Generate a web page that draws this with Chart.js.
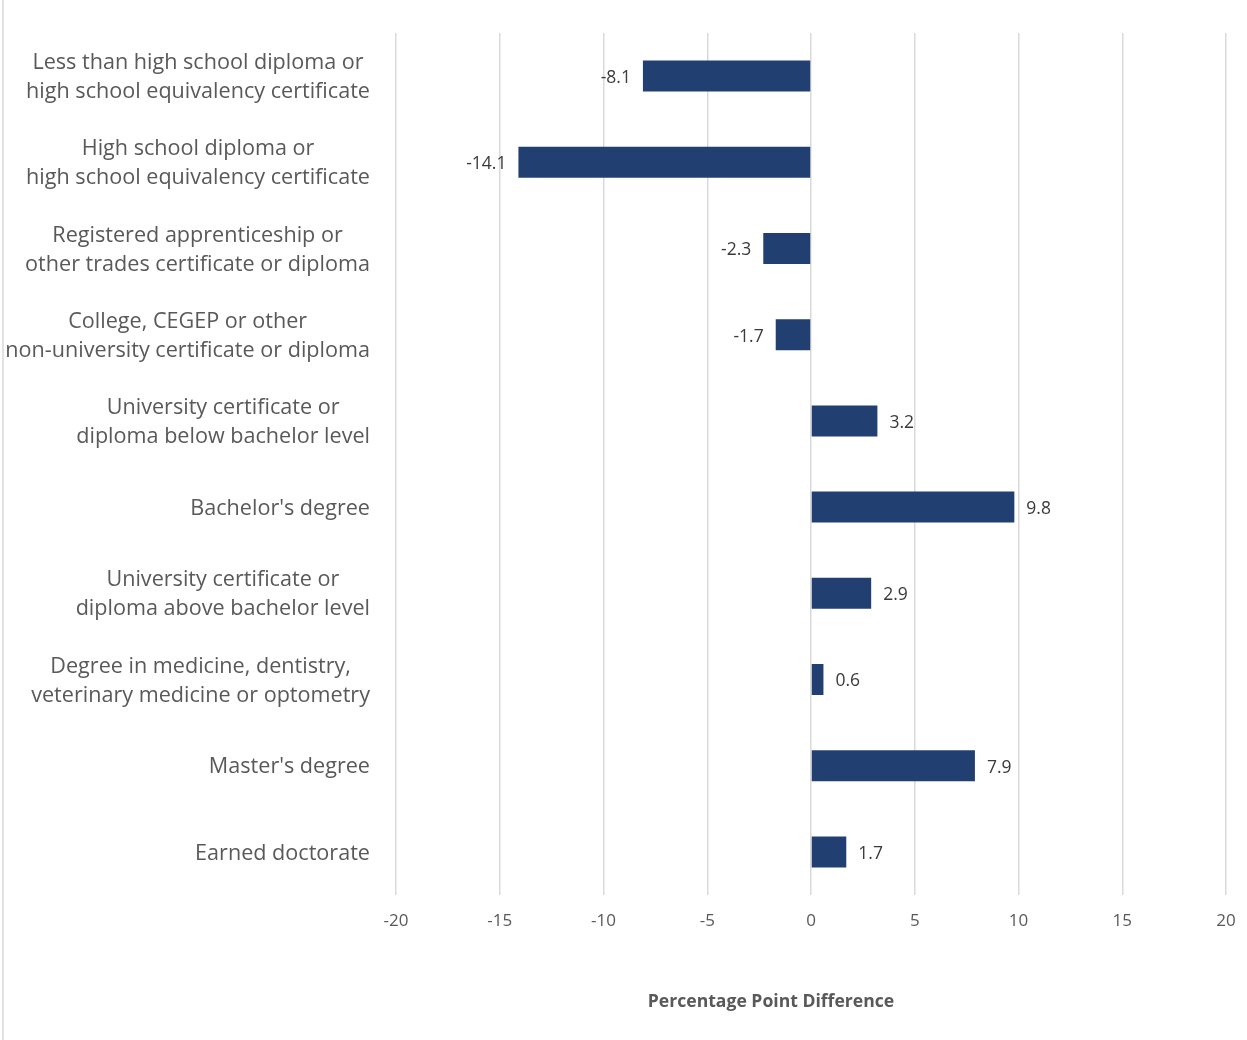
<!DOCTYPE html>
<html>
<head>
<meta charset="utf-8">
<script src="https://cdn.jsdelivr.net/npm/chart.js@4"></script>
<style>
  html, body { margin: 0; padding: 0; background: #fff; }
  #wrap { position: relative; width: 1247px; height: 1040px; }
  #wrap:before { content: ''; position: absolute; left: 2px; top: 0; bottom: 0; border-left: 2px solid #e2e2e2; }
</style>
</head>
<body>
<div id="wrap"><canvas id="chart" width="1247" height="1040"></canvas></div>
<script>
// niveaux de scolarité (une ligne par entrée de sous-tableau)
const categories = [
  ['Less than high school diploma or', 'high school equivalency certificate'],
  ['High school diploma or', 'high school equivalency certificate'],
  ['Registered apprenticeship or', 'other trades certificate or diploma'],
  ['College, CEGEP or other', 'non-university certificate or diploma'],
  ['University certificate or', 'diploma below bachelor level'],
  ["Bachelor's degree"],
  ['University certificate or', 'diploma above bachelor level'],
  ['Degree in medicine, dentistry,', 'veterinary medicine or optometry'],
  ["Master's degree"],
  ['Earned doctorate']
];
const differences = [-8.1, -14.1, -2.3, -1.7, 3.2, 9.8, 2.9, 0.6, 7.9, 1.7];
const xTicks = [-20, -15, -10, -5, 0, 5, 10, 15, 20];
const axisTitle = 'Percentage Point Difference';

const FONT = '"Open Sans", "Noto Sans", sans-serif';
const BAR = '#223f72';

// étiquettes des catégories : bloc aligné à droite, lignes centrées entre elles
const categoryLabels = {
  id: 'categoryLabels',
  afterDraw(chart) {
    const { ctx, scales: { y } } = chart;
    ctx.save();
    ctx.font = '21.6px ' + FONT;
    ctx.fillStyle = '#595959';
    ctx.textAlign = 'center';
    ctx.textBaseline = 'middle';
    const lineH = 29;
    const right = chart.chartArea.left - 26;
    categories.forEach((lines, i) => {
      const yc = y.getPixelForTick(i) + 1.5;
      const maxW = Math.max(...lines.map(l => ctx.measureText(l).width));
      const cx = right - maxW / 2;
      lines.forEach((l, k) => {
        ctx.fillText(l, cx, yc + (k - (lines.length - 1) / 2) * lineH);
      });
    });
    ctx.restore();
  }
};

// valeurs au bout des barres + titre de l'axe
const valueLabels = {
  id: 'valueLabels',
  afterDatasetsDraw(chart) {
    const { ctx } = chart;
    const meta = chart.getDatasetMeta(0);
    ctx.save();
    ctx.font = '17.5px ' + FONT;
    ctx.fillStyle = '#3a3a3a';
    ctx.textBaseline = 'middle';
    meta.data.forEach((bar, i) => {
      const v = differences[i];
      if (v < 0) {
        ctx.textAlign = 'right';
        ctx.fillText(v.toFixed(1), bar.x - 12, bar.y + 2);
      } else {
        ctx.textAlign = 'left';
        ctx.fillText(v.toFixed(1), bar.x + 12, bar.y + 2);
      }
    });
    ctx.font = 'bold 17.6px ' + FONT;
    ctx.fillStyle = '#595959';
    ctx.textAlign = 'center';
    ctx.fillText(axisTitle, 771, 1002);
    ctx.restore();
  }
};

new Chart(document.getElementById('chart'), {
  type: 'bar',
  data: {
    labels: categories,
    datasets: [{
      data: differences,
      backgroundColor: BAR,
      borderWidth: 0,
      categoryPercentage: 0.36,
      barPercentage: 1
    }]
  },
  options: {
    indexAxis: 'y',
    responsive: false,
    animation: false,
    layout: { padding: { top: 33, right: 21, left: 0, bottom: 0 } },
    plugins: { legend: { display: false }, tooltip: { enabled: false } },
    scales: {
      x: {
        min: -20,
        max: 20,
        afterBuildTicks: scale => { scale.ticks = xTicks.map(v => ({ value: v })); },
        afterFit: scale => {
          scale.height = 145;
          scale.paddingLeft = 0;
          scale.paddingRight = 0;
        },
        grid: { color: '#d9d9d9', lineWidth: 1.5, drawTicks: false },
        border: { display: false },
        ticks: {
          padding: 16,
          color: '#595959',
          font: { family: FONT, size: 17 }
        }
      },
      y: {
        afterFit: scale => { scale.width = 396; },
        grid: { display: false },
        border: { display: false },
        ticks: { display: false }
      }
    }
  },
  plugins: [categoryLabels, valueLabels]
});
</script>
</body>
</html>
